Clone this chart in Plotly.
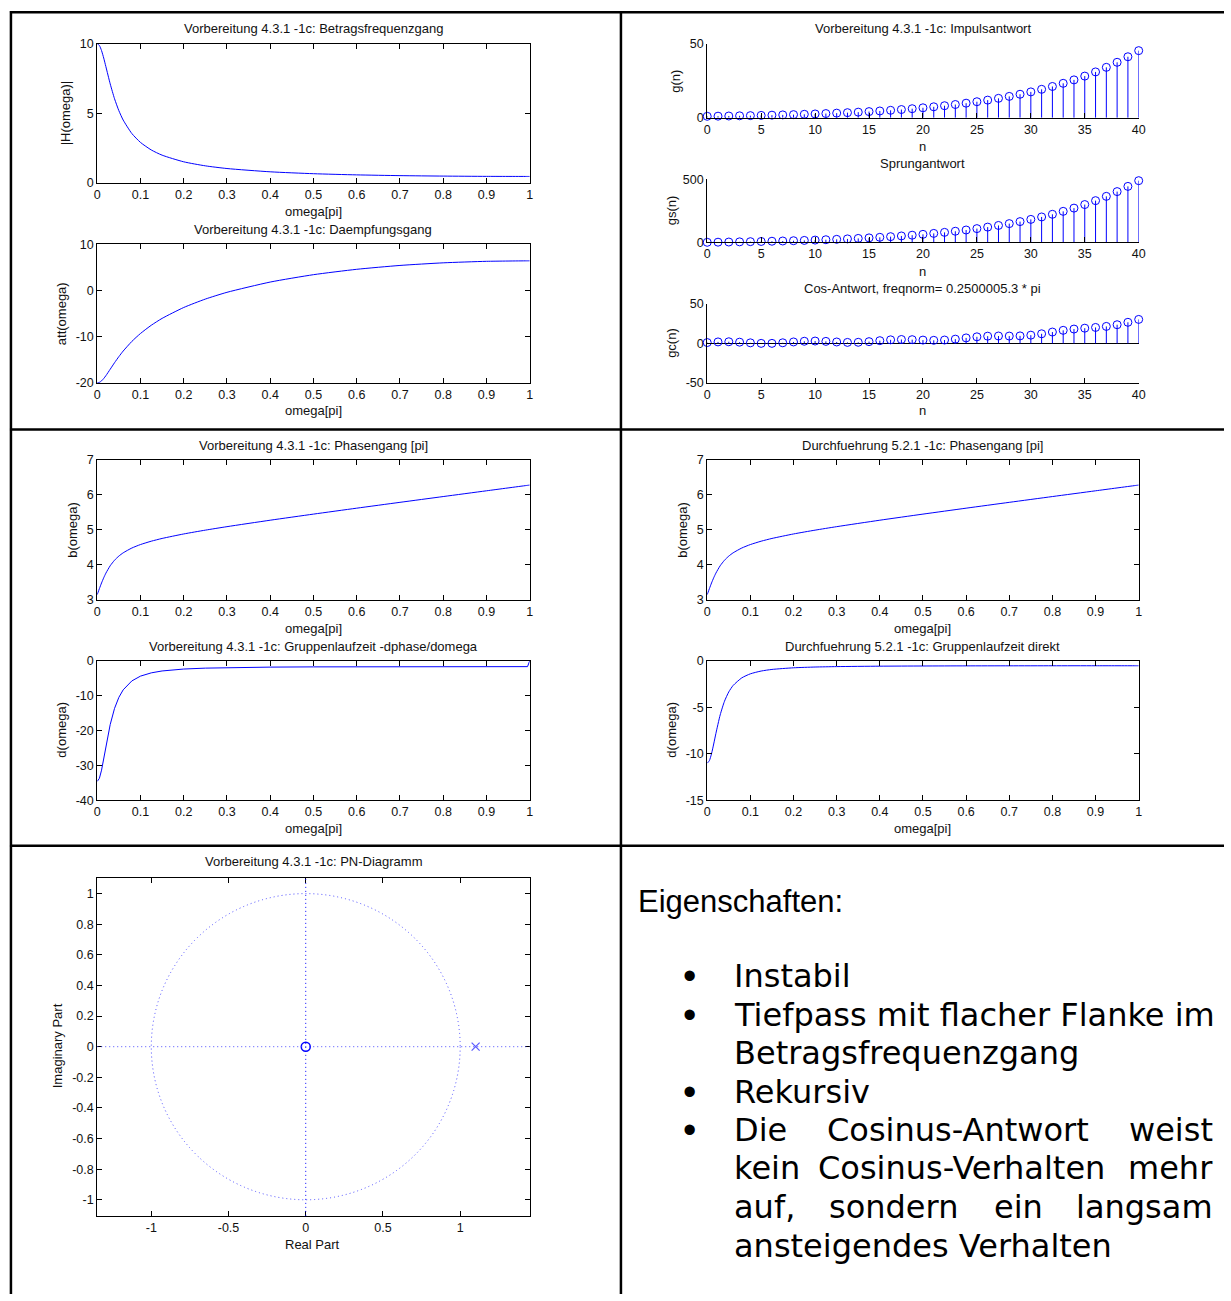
import plotly.graph_objects as go

W, H = 1231, 1301
FONT = "Liberation Sans, Arial, sans-serif"
TXT = "#111111"
BLUE = "#0000ff"

# ---------------- data ----------------
# normalised frequency omega/pi
freq = [0, 0.005, 0.01, 0.015, 0.02, 0.03, 0.04, 0.05, 0.06, 0.08, 0.1, 0.125, 0.15,
        0.2, 0.25, 0.3, 0.4, 0.5, 0.6, 0.7, 0.8, 0.9, 0.995, 1.0]
mag = [10.0, 9.867, 9.498, 8.965, 8.350, 7.113, 6.047, 5.193, 4.519, 3.555, 2.915, 2.374, 2.001,
       1.525, 1.236, 1.044, 0.808, 0.673, 0.588, 0.534, 0.501, 0.482, 0.476, 0.476]
att = [-20.0, -19.884, -19.552, -19.051, -18.434, -17.041, -15.631, -14.308, -13.101, -11.017,
       -9.293, -7.509, -6.024, -3.664, -1.842, -0.377, 1.847, 3.444, 4.609, 5.445, 6.010, 6.337,
       6.444, 6.444]
phase = [3.1416, 3.3129, 3.4760, 3.6247, 3.7564, 3.9693, 4.1273, 4.2468, 4.3400, 4.4776, 4.5774,
         4.6738, 4.7522, 4.8810, 4.9906, 5.0904, 5.2753, 5.4502, 5.6203, 5.7877, 5.9536, 6.1186,
         6.2750, 6.2832]
gd_deriv = [-34.558, -33.686, -31.328, -28.083, -24.572, -18.261, -13.633, -10.466, -8.307, -5.740,
            -4.374, -3.430, -2.891, -2.338, -2.075, -1.931, -1.786, -1.720, -1.685, -1.665, -1.653,
            -1.647, -1.646, 0.0]
gd_direct = [-11.0, -10.723, -9.972, -8.939, -7.822, -5.813, -4.339, -3.331, -2.644, -1.827, -1.392,
             -1.092, -0.920, -0.744, -0.660, -0.615, -0.569, -0.548, -0.536, -0.530, -0.526, -0.524,
             -0.524, -0.524]

n = list(range(41))
g_imp = [1.00, 1.10, 1.21, 1.33, 1.46, 1.61, 1.77, 1.95, 2.14, 2.36, 2.59, 2.85, 3.14, 3.45, 3.80,
         4.18, 4.59, 5.05, 5.56, 6.12, 6.73, 7.40, 8.14, 8.95, 9.85, 10.83, 11.92, 13.11, 14.42,
         15.86, 17.45, 19.19, 21.11, 23.23, 25.55, 28.10, 30.91, 34.00, 37.40, 41.14, 45.26]
g_step = [1.0, 2.1, 3.31, 4.64, 6.11, 7.72, 9.49, 11.44, 13.58, 15.94, 18.53, 21.38, 24.52, 27.97,
          31.77, 35.95, 40.54, 45.60, 51.16, 57.27, 64.00, 71.40, 79.54, 88.50, 98.35, 109.18,
          121.10, 134.21, 148.63, 164.49, 181.94, 201.14, 222.25, 245.48, 271.02, 299.13, 330.04,
          364.04, 401.45, 442.59, 487.85]
g_cos = [1.00, 1.81, 1.99, 1.48, 0.63, -0.02, -0.02, 0.69, 1.76, 2.64, 2.90, 2.48, 1.73, 1.20,
         1.32, 2.16, 3.37, 4.42, 4.86, 4.64, 4.10, 3.81, 4.19, 5.31, 6.85, 8.24, 9.06, 9.26, 9.19,
         9.40, 10.34, 12.08, 14.28, 16.42, 18.06, 19.16, 20.08, 21.38, 23.52, 26.57, 30.23]

zeros_re, zeros_im = [0.0], [0.0]
poles_re, poles_im = [1.1], [0.0]

freq_ticks = [0, 0.1, 0.2, 0.3, 0.4, 0.5, 0.6, 0.7, 0.8, 0.9, 1]
freq_labels = ["0", "0.1", "0.2", "0.3", "0.4", "0.5", "0.6", "0.7", "0.8", "0.9", "1"]
n_ticks = [0, 5, 10, 15, 20, 25, 30, 35, 40]
pn_xticks = [-1, -0.5, 0, 0.5, 1]
pn_xlabels = ["-1", "-0.5", "0", "0.5", "1"]
pn_yticks = [-1, -0.8, -0.6, -0.4, -0.2, 0, 0.2, 0.4, 0.6, 0.8, 1]
pn_ylabels = ["-1", "-0.8", "-0.6", "-0.4", "-0.2", "0", "0.2", "0.4", "0.6", "0.8", "1"]

# ---------------- helpers (page pixel -> paper fraction) ----------------
def px(x):
    return x / W

def py(y):
    return 1 - y / H

def dx(l, r):
    return [px(l), px(r)]

def dy(t, b):
    return [py(b), py(t)]

fig = go.Figure()

def line_trace(xs, ys, i, shape="spline"):
    fig.add_trace(go.Scatter(x=xs, y=ys, mode="lines", xaxis=f"x{i}", yaxis=f"y{i}",
                             line=dict(color=BLUE, width=1, shape=shape, smoothing=0.6),
                             showlegend=False, hoverinfo="skip", cliponaxis=True))

def stem_trace(xs, ys, i):
    sx, sy = [], []
    for a, b in zip(xs, ys):
        sx += [a, a, None]
        sy += [0, b, None]
    fig.add_trace(go.Scatter(x=sx, y=sy, mode="lines", xaxis=f"x{i}", yaxis=f"y{i}",
                             line=dict(color=BLUE, width=1), showlegend=False,
                             hoverinfo="skip", cliponaxis=False))
    fig.add_trace(go.Scatter(x=xs, y=ys, mode="markers", xaxis=f"x{i}", yaxis=f"y{i}",
                             marker=dict(symbol="circle-open", size=8, color=BLUE,
                                         line=dict(width=1, color=BLUE)),
                             showlegend=False, hoverinfo="skip", cliponaxis=False))

line_trace(freq, mag, 1)
line_trace(freq, att, 2)
stem_trace(n, g_imp, 3)
stem_trace(n, g_step, 4)
stem_trace(n, g_cos, 5)
line_trace(freq, phase, 6)
line_trace(freq, gd_deriv, 7, shape="linear")
line_trace(freq, phase, 8)
line_trace(freq, gd_direct, 9)

fig.add_trace(go.Scatter(x=zeros_re, y=zeros_im, mode="markers", xaxis="x10", yaxis="y10",
                         marker=dict(symbol="circle-open", size=9, color=BLUE,
                                     line=dict(width=1.5, color=BLUE)),
                         showlegend=False, hoverinfo="skip", cliponaxis=False))
fig.add_trace(go.Scatter(x=poles_re, y=poles_im, mode="markers", xaxis="x10", yaxis="y10",
                         marker=dict(symbol="x-thin-open", size=8, color="#5a5aff",
                                     line=dict(width=1.2, color="#5a5aff")),
                         showlegend=False, hoverinfo="skip", cliponaxis=False))

# ---------------- axes ----------------
tickfont = dict(family=FONT, size=12.5, color=TXT)

def axis(domain, anchor, rng, tickvals, ticktext=None, boxed=True, zeroline=False):
    d = dict(domain=domain, anchor=anchor, range=rng, showline=True, linecolor="black",
             linewidth=1, ticks="inside", ticklen=5, tickcolor="black", tickwidth=1,
             showgrid=False, zeroline=zeroline, zerolinecolor="black", zerolinewidth=1,
             tickfont=tickfont, tickvals=tickvals, fixedrange=True,
             mirror="ticks" if boxed else False)
    if ticktext is not None:
        d["ticktext"] = ticktext
    return d

LX, RX = (95, 531), (710, 1145)
specs = {
    1: (LX, (37, 178), [0, 1], freq_ticks, freq_labels, [0, 10], [0, 5, 10], ["0", "5", "10"], True),
    2: (LX, (240, 380), [0, 1], freq_ticks, freq_labels, [-20, 10], [-20, -10, 0, 10],
        ["-20", "-10", "0", "10"], True),
    3: (RX, (37, 112), [0, 40], n_ticks, None, [0, 50], [0, 50], ["0", "50"], False),
    4: (RX, (174, 238), [0, 40], n_ticks, None, [0, 500], [0, 500], ["0", "500"], False),
    5: (RX, (300, 380), [0, 40], n_ticks, None, [-50, 50], [-50, 0, 50], ["-50", "0", "50"], False),
    6: (LX, (458, 599), [0, 1], freq_ticks, freq_labels, [3, 7], [3, 4, 5, 6, 7], None, True),
    7: (LX, (661, 802), [0, 1], freq_ticks, freq_labels, [-40, 0], [-40, -30, -20, -10, 0],
        ["-40", "-30", "-20", "-10", "0"], True),
    8: (RX, (458, 599), [0, 1], freq_ticks, freq_labels, [3, 7], [3, 4, 5, 6, 7], None, True),
    9: (RX, (661, 802), [0, 1], freq_ticks, freq_labels, [-15, 0], [-15, -10, -5, 0],
        ["-15", "-10", "-5", "0"], True),
    10: (LX, (880, 1222), [-1.35, 1.45], pn_xticks, pn_xlabels, [-1.105, 1.105], pn_yticks,
         pn_ylabels, True),
}
layout_axes = {}
for i, (xr, yr, xrng, xt, xtt, yrng, yt, ytt, boxed) in specs.items():
    layout_axes[f"xaxis{i}"] = axis(dx(*xr), f"y{i}", xrng, xt, xtt, boxed)
    layout_axes[f"yaxis{i}"] = axis(dy(*yr), f"x{i}", yrng, yt, ytt, boxed, zeroline=(i == 5))
fig.update_layout(**layout_axes)

# ---------------- texts ----------------
ann = []

def text(x, y, s, size=13, angle=0, family=FONT, xanchor="center", color=TXT):
    ann.append(dict(x=px(x), y=py(y), xref="paper", yref="paper", text=s, showarrow=False,
                    textangle=angle, xanchor=xanchor, yanchor="middle",
                    font=dict(family=family, size=size, color=color)))

LC, RC = 313, 927.5
# titles
text(LC, 22, "Vorbereitung 4.3.1 -1c: Betragsfrequenzgang")
text(LC, 225, "Vorbereitung 4.3.1 -1c: Daempfungsgang")
text(RC, 22, "Vorbereitung 4.3.1 -1c: Impulsantwort")
text(RC, 158, "Sprungantwort")
text(RC, 285, "Cos-Antwort, freqnorm= 0.2500005.3 * pi")
text(LC, 443, "Vorbereitung 4.3.1 -1c: Phasengang [pi]")
text(LC, 646, "Vorbereitung 4.3.1 -1c: Gruppenlaufzeit -dphase/domega")
text(RC, 443, "Durchfuehrung 5.2.1 -1c: Phasengang [pi]")
text(RC, 646, "Durchfuehrung 5.2.1 -1c: Gruppenlaufzeit direkt")
text(LC, 864, "Vorbereitung 4.3.1 -1c: PN-Diagramm")
# x labels
text(LC, 207, "omega[pi]")
text(LC, 408, "omega[pi]")
text(RC, 141, "n")
text(RC, 267, "n")
text(RC, 408, "n")
text(LC, 628, "omega[pi]")
text(LC, 830, "omega[pi]")
text(RC, 628, "omega[pi]")
text(RC, 830, "omega[pi]")
text(312, 1251, "Real Part")
# y labels
text(63, 107, "|H(omega)|", angle=-90)
text(59, 310, "att(omega)", angle=-90)
text(678, 75, "g(n)", angle=-90)
text(674, 206, "gs(n)", angle=-90)
text(674, 340, "gc(n)", angle=-90)
text(70, 528, "b(omega)", angle=-90)
text(59, 731, "d(omega)", angle=-90)
text(685, 528, "b(omega)", angle=-90)
text(674, 731, "d(omega)", angle=-90)
text(55, 1050, "Imaginary Part", angle=-90)

# properties text
VER = "DejaVu Sans, Verdana, sans-serif"
ARL = "Liberation Sans, Arial, sans-serif"
BS = 32
text(638, 904, "Eigenschaften:", size=31, family=ARL, xanchor="left", color="black")
for yb in (980, 1019, 1097, 1135):
    text(692, yb, "\u2022", size=38, family=ARL, color="black")
text(735, 980, "Instabil", size=BS, family=VER, xanchor="left", color="black")
text(735, 1019, "Tiefpass mit flacher Flanke im", size=BS, family=VER, xanchor="left", color="black")
text(735, 1057, "Betragsfrequenzgang", size=BS, family=VER, xanchor="left", color="black")
text(735, 1097, "Rekursiv", size=BS, family=VER, xanchor="left", color="black")
text(735, 1135, "Die", size=BS, family=VER, xanchor="left", color="black")
text(963, 1135, "Cosinus-Antwort", size=BS, family=VER, color="black")
text(1222, 1135, "weist", size=BS, family=VER, xanchor="right", color="black")
text(735, 1174, "kein", size=BS, family=VER, xanchor="left", color="black")
text(966, 1174, "Cosinus-Verhalten", size=BS, family=VER, color="black")
text(1222, 1174, "mehr", size=BS, family=VER, xanchor="right", color="black")
text(735, 1213, "auf,", size=BS, family=VER, xanchor="left", color="black")
text(898, 1213, "sondern", size=BS, family=VER, color="black")
text(1024, 1213, "ein", size=BS, family=VER, color="black")
text(1222, 1213, "langsam", size=BS, family=VER, xanchor="right", color="black")
text(735, 1252, "ansteigendes Verhalten", size=BS, family=VER, xanchor="left", color="black")

# ---------------- shapes ----------------
shapes = []
def pline(x0, y0, x1, y1, w=2.5):
    shapes.append(dict(type="line", xref="paper", yref="paper", x0=px(x0), y0=py(y0),
                       x1=px(x1), y1=py(y1), line=dict(color="black", width=w)))

pline(7, 5.3, 1231, 5.3)
pline(8, 4, 8, 1301)
pline(623, 4, 623, 1301)
pline(7, 427, 1231, 427)
pline(7, 848, 1231, 848)

DOT = "1px,3px"
shapes.append(dict(type="circle", xref="x10", yref="y10", x0=-1, y0=-1, x1=1, y1=1,
                   line=dict(color="#4d4dff", width=1, dash=DOT)))
shapes.append(dict(type="line", xref="x10 domain", yref="y10", x0=0, x1=1, y0=0, y1=0,
                   line=dict(color="#4d4dff", width=1, dash=DOT)))
shapes.append(dict(type="line", xref="x10", yref="y10 domain", x0=0, x1=0, y0=0, y1=1,
                   line=dict(color=BLUE, width=1, dash=DOT)))

fig.update_layout(width=W, height=H, margin=dict(l=0, r=0, t=0, b=0, pad=0),
                  paper_bgcolor="white", plot_bgcolor="white", showlegend=False,
                  annotations=ann, shapes=shapes, font=dict(family=FONT, color=TXT))

fig.write_html("out.html", config={"displayModeBar": False, "staticPlot": True},
               post_script="document.body.style.margin='0';document.body.style.overflow='hidden';")
